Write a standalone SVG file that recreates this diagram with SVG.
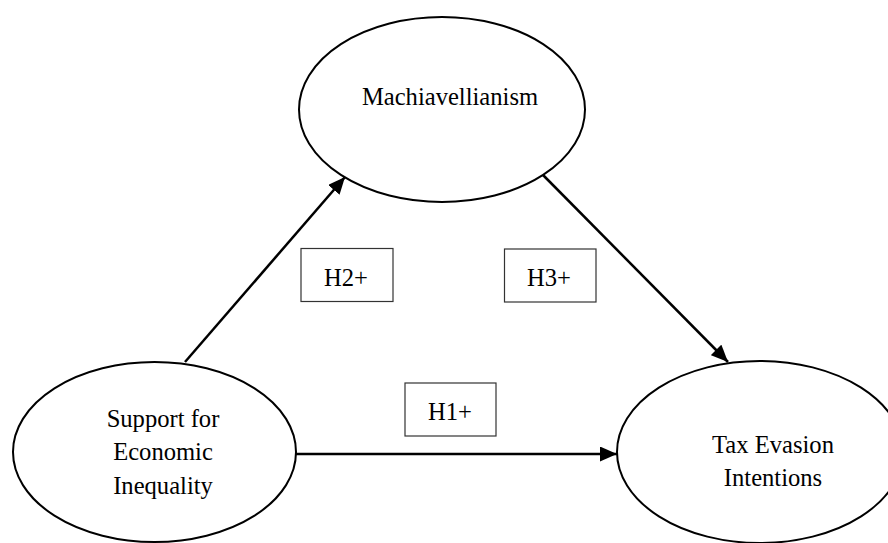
<svg xmlns="http://www.w3.org/2000/svg" width="888" height="543" viewBox="0 0 888 543">
  <style>
    .node { fill: #ffffff; stroke: #000000; stroke-width: 2; }
    .lbl { font-family: "Liberation Serif", "Times New Roman", serif; font-size: 24.6px; fill: #000000; text-anchor: middle; }
    .box { fill: #ffffff; stroke: #333333; stroke-width: 1.2; }
    .edge { stroke: #000000; stroke-width: 2.5; fill: none; marker-end: url(#arrow); }
  </style>
  <defs>
    <marker id="arrow" markerUnits="userSpaceOnUse" markerWidth="17" markerHeight="15" refX="17" refY="7.5" orient="auto">
      <path d="M0,0 L17,7.5 L0,15 Z" fill="#000000"/>
    </marker>
  </defs>
  <rect width="888" height="543" fill="#ffffff"/>
  <g id="connectors">
    <line class="edge" x1="185" y1="362" x2="345" y2="177"/>
    <line class="edge" x1="543" y1="175" x2="728" y2="362"/>
    <line class="edge" x1="296" y1="454" x2="617" y2="454"/>
  </g>
  <g id="machiavellianism">
    <ellipse class="node" cx="442" cy="109.5" rx="143" ry="92.5"/>
    <text class="lbl" x="450" y="105">Machiavellianism</text>
  </g>
  <g id="support">
    <ellipse class="node" cx="154.5" cy="452" rx="141.5" ry="90"/>
    <text class="lbl" x="163" y="427">Support for</text>
    <text class="lbl" x="163" y="460">Economic</text>
    <text class="lbl" x="163" y="494">Inequality</text>
  </g>
  <g id="taxevasion">
    <ellipse class="node" cx="760" cy="452" rx="143" ry="91"/>
    <text class="lbl" x="773" y="453">Tax Evasion</text>
    <text class="lbl" x="773" y="486">Intentions</text>
  </g>
  <g id="h2">
    <rect class="box" x="301" y="248.5" width="92" height="53"/>
    <text class="lbl" x="346" y="286">H2+</text>
  </g>
  <g id="h3">
    <rect class="box" x="504.5" y="249" width="91.5" height="53"/>
    <text class="lbl" x="549" y="286">H3+</text>
  </g>
  <g id="h1">
    <rect class="box" x="405" y="383" width="91" height="53"/>
    <text class="lbl" x="450" y="420">H1+</text>
  </g>
</svg>
